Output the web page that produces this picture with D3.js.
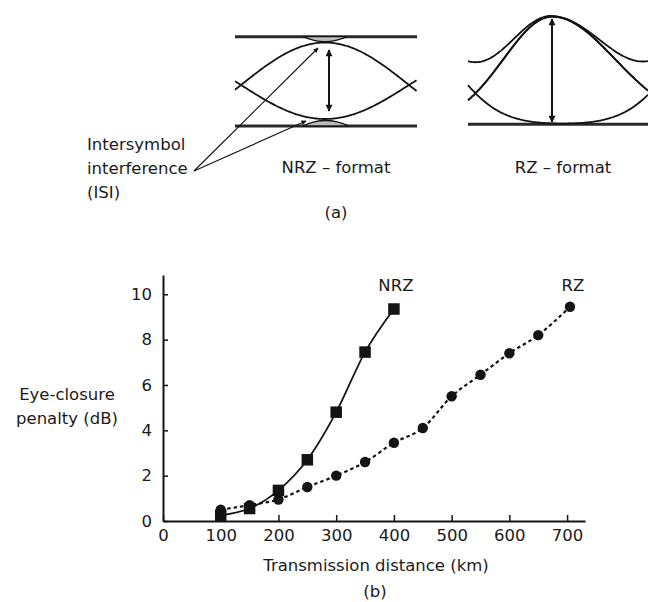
<!DOCTYPE html>
<html>
<head>
<meta charset="utf-8">
<script src="https://cdn.jsdelivr.net/npm/d3@7"></script>
<style>
  body { margin: 0; background: #fff; }
  text { font-family: "DejaVu Sans", sans-serif; fill: #1a1a1a; }
</style>
</head>
<body>
<svg id="chart" width="648" height="602"></svg>
<script>
// ── data (b) ──────────────────────────────────────────────
const distNRZ    = [100, 150, 200, 250, 300, 350, 400];
const penaltyNRZ = [0.25, 0.55, 1.35, 2.7, 4.8, 7.45, 9.35];
const distRZ     = [100, 150, 200, 250, 300, 350, 400, 450, 500, 550, 600, 650, 705];
const penaltyRZ  = [0.5, 0.7, 0.95, 1.5, 2.0, 2.6, 3.45, 4.1, 5.5, 6.45, 7.4, 8.2, 9.45];
const xTicks = [0, 100, 200, 300, 400, 500, 600, 700];
const yTicks = [0, 2, 4, 6, 8, 10];

const INK = '#141414';
const FS = 16.5;
const svg = d3.select('#chart');

// arrowheads
const defs = svg.append('defs');
function marker(id, w, h) {
  defs.append('marker').attr('id', id)
    .attr('viewBox', '0 0 10 10').attr('refX', 9).attr('refY', 5)
    .attr('markerUnits', 'userSpaceOnUse')
    .attr('markerWidth', w).attr('markerHeight', h)
    .attr('orient', 'auto-start-reverse')
    .append('path').attr('d', 'M0,0L10,5L0,10Z').attr('fill', INK);
}
marker('head', 8, 7);
marker('thin', 8, 5);

// ── (a) eye diagrams ─────────────────────────────────────
const eye = svg.append('g').attr('class', 'eye');
const curve = d3.line().x(d => d[0]).y(d => d[1]).curve(d3.curveBasis);

// NRZ eye
const nrz = { x0: 235, x1: 417, top: 36.7, bot: 126, mid: 85, up: 42.5, lo: 119, cx: 325, half: 84 };
const nrzXs = d3.range(nrz.x0, nrz.x1 + 0.5, 1.5);
const cosArc = (amp) => nrzXs.map(xx => [xx, nrz.mid - amp * Math.cos(Math.PI * (xx - nrz.cx) / (2 * nrz.half))]);

[nrz.top, nrz.bot].forEach(yy => {
  eye.append('line').attr('x1', nrz.x0).attr('x2', nrz.x1).attr('y1', yy).attr('y2', yy)
    .attr('stroke', '#2a2a2a').attr('stroke-width', 3);
});
// ISI smear near the rails
eye.append('path').attr('d', `M303,${nrz.top}Q325,${nrz.top + 10} 347,${nrz.top}Z`)
  .attr('fill', '#bdbdbd').attr('stroke', INK).attr('stroke-width', 1.3);
eye.append('path').attr('d', `M303,${nrz.bot}Q325,${nrz.bot - 11} 349,${nrz.bot}Z`)
  .attr('fill', '#bdbdbd').attr('stroke', INK).attr('stroke-width', 1.3);
eye.append('path').attr('d', curve(cosArc(nrz.mid - nrz.up)))
  .attr('fill', 'none').attr('stroke', INK).attr('stroke-width', 1.8);
eye.append('path').attr('d', curve(cosArc(nrz.mid - nrz.lo)))
  .attr('fill', 'none').attr('stroke', INK).attr('stroke-width', 1.8);
eye.append('line').attr('x1', 329).attr('x2', 329).attr('y1', 50).attr('y2', 111)
  .attr('stroke', INK).attr('stroke-width', 2)
  .attr('marker-start', 'url(#head)').attr('marker-end', 'url(#head)');

// ISI pointers
[[318, 48], [306, 121]].forEach(([tx, ty]) => {
  eye.append('line').attr('x1', 194).attr('y1', 171).attr('x2', tx).attr('y2', ty)
    .attr('stroke', INK).attr('stroke-width', 1.2).attr('marker-end', 'url(#thin)');
});

// RZ eye (sum of neighbouring pulses)
const rz = { x0: 468, x1: 648, base: 124.3, amp: 107.6, c: 552 };
const pulse = (cen, sL, sR) => xx => {
  const s = xx < cen ? sL : sR;
  return Math.exp(-Math.pow((xx - cen) / s, 2) / 2);
};
const gL = pulse(rz.c - 153, 48.5, 48.5);
const g0 = pulse(rz.c, 48.5, 63);
const gR = pulse(rz.c + 174, 48.5, 48.5);
const rzXs = d3.range(rz.x0, rz.x1 + 0.5, 1.5);
const rzPath = f => curve(rzXs.map(xx => [xx, rz.base - rz.amp * f(xx)]));

eye.append('line').attr('x1', rz.x0).attr('x2', rz.x1).attr('y1', rz.base).attr('y2', rz.base)
  .attr('stroke', '#2a2a2a').attr('stroke-width', 3);
[xx => g0(xx), xx => gL(xx) + g0(xx), xx => g0(xx) + gR(xx), xx => gL(xx) + gR(xx)]
  .forEach(f => {
    eye.append('path').attr('d', rzPath(f))
      .attr('fill', 'none').attr('stroke', INK).attr('stroke-width', 1.8);
  });
eye.append('line').attr('x1', rz.c).attr('x2', rz.c).attr('y1', 19).attr('y2', 122)
  .attr('stroke', INK).attr('stroke-width', 2)
  .attr('marker-start', 'url(#head)').attr('marker-end', 'url(#head)');

// labels (a)
const label = (tx, ty, str, anchor) => svg.append('text')
  .attr('x', tx).attr('y', ty).attr('text-anchor', anchor || 'middle')
  .attr('font-size', FS).text(str);
label(87, 150, 'Intersymbol', 'start');
label(87, 174, 'interference', 'start');
label(87, 198, '(ISI)', 'start');
label(336, 173, 'NRZ – format');
label(563, 173, 'RZ – format');
label(336, 218, '(a)');

// ── (b) penalty vs distance ──────────────────────────────
const x = d3.scaleLinear().domain([0, 731]).range([163, 585]);
const y = d3.scaleLinear().domain([0, 10.85]).range([521, 275]);

const xAxis = svg.append('g').attr('transform', `translate(0,${y(0)})`)
  .call(d3.axisBottom(x).tickValues(xTicks).tickSize(-6).tickSizeOuter(0).tickPadding(8));
const yAxis = svg.append('g').attr('transform', `translate(${x(0)},0)`)
  .call(d3.axisLeft(y).tickValues(yTicks).tickSize(-5).tickSizeOuter(0).tickPadding(11));
[xAxis, yAxis].forEach(a => {
  a.attr('font-size', FS).attr('font-family', '"DejaVu Sans", sans-serif');
  a.select('.domain').attr('stroke', INK).attr('stroke-width', 2);
  a.selectAll('.tick line').attr('stroke', INK).attr('stroke-width', 1.5);
  a.selectAll('.tick text').attr('fill', '#1a1a1a');
});

const nrzPts = distNRZ.map((d, i) => [d, penaltyNRZ[i]]);
const rzPts = distRZ.map((d, i) => [d, penaltyRZ[i]]);
const line = d3.line().x(d => x(d[0])).y(d => y(d[1])).curve(d3.curveMonotoneX);

svg.append('path').attr('d', line(rzPts))
  .attr('fill', 'none').attr('stroke', INK).attr('stroke-width', 2.2)
  .attr('stroke-dasharray', '3.5,3');
svg.append('path').attr('d', line(nrzPts))
  .attr('fill', 'none').attr('stroke', INK).attr('stroke-width', 1.8);

svg.append('g').selectAll('circle').data(rzPts).join('circle')
  .attr('cx', d => x(d[0])).attr('cy', d => y(d[1])).attr('r', 5.2).attr('fill', INK);
const sq = 11.5;
svg.append('g').selectAll('rect').data(nrzPts).join('rect')
  .attr('x', d => x(d[0]) - sq / 2).attr('y', d => y(d[1]) - sq / 2)
  .attr('width', sq).attr('height', sq).attr('fill', INK);

label(x(400) + 2, 291, 'NRZ');
label(x(705) + 3, 291, 'RZ');
label(67, 400, 'Eye-closure');
label(67, 424, 'penalty (dB)');
label(376, 571, 'Transmission distance (km)');
label(375, 597, '(b)');
</script>
</body>
</html>
